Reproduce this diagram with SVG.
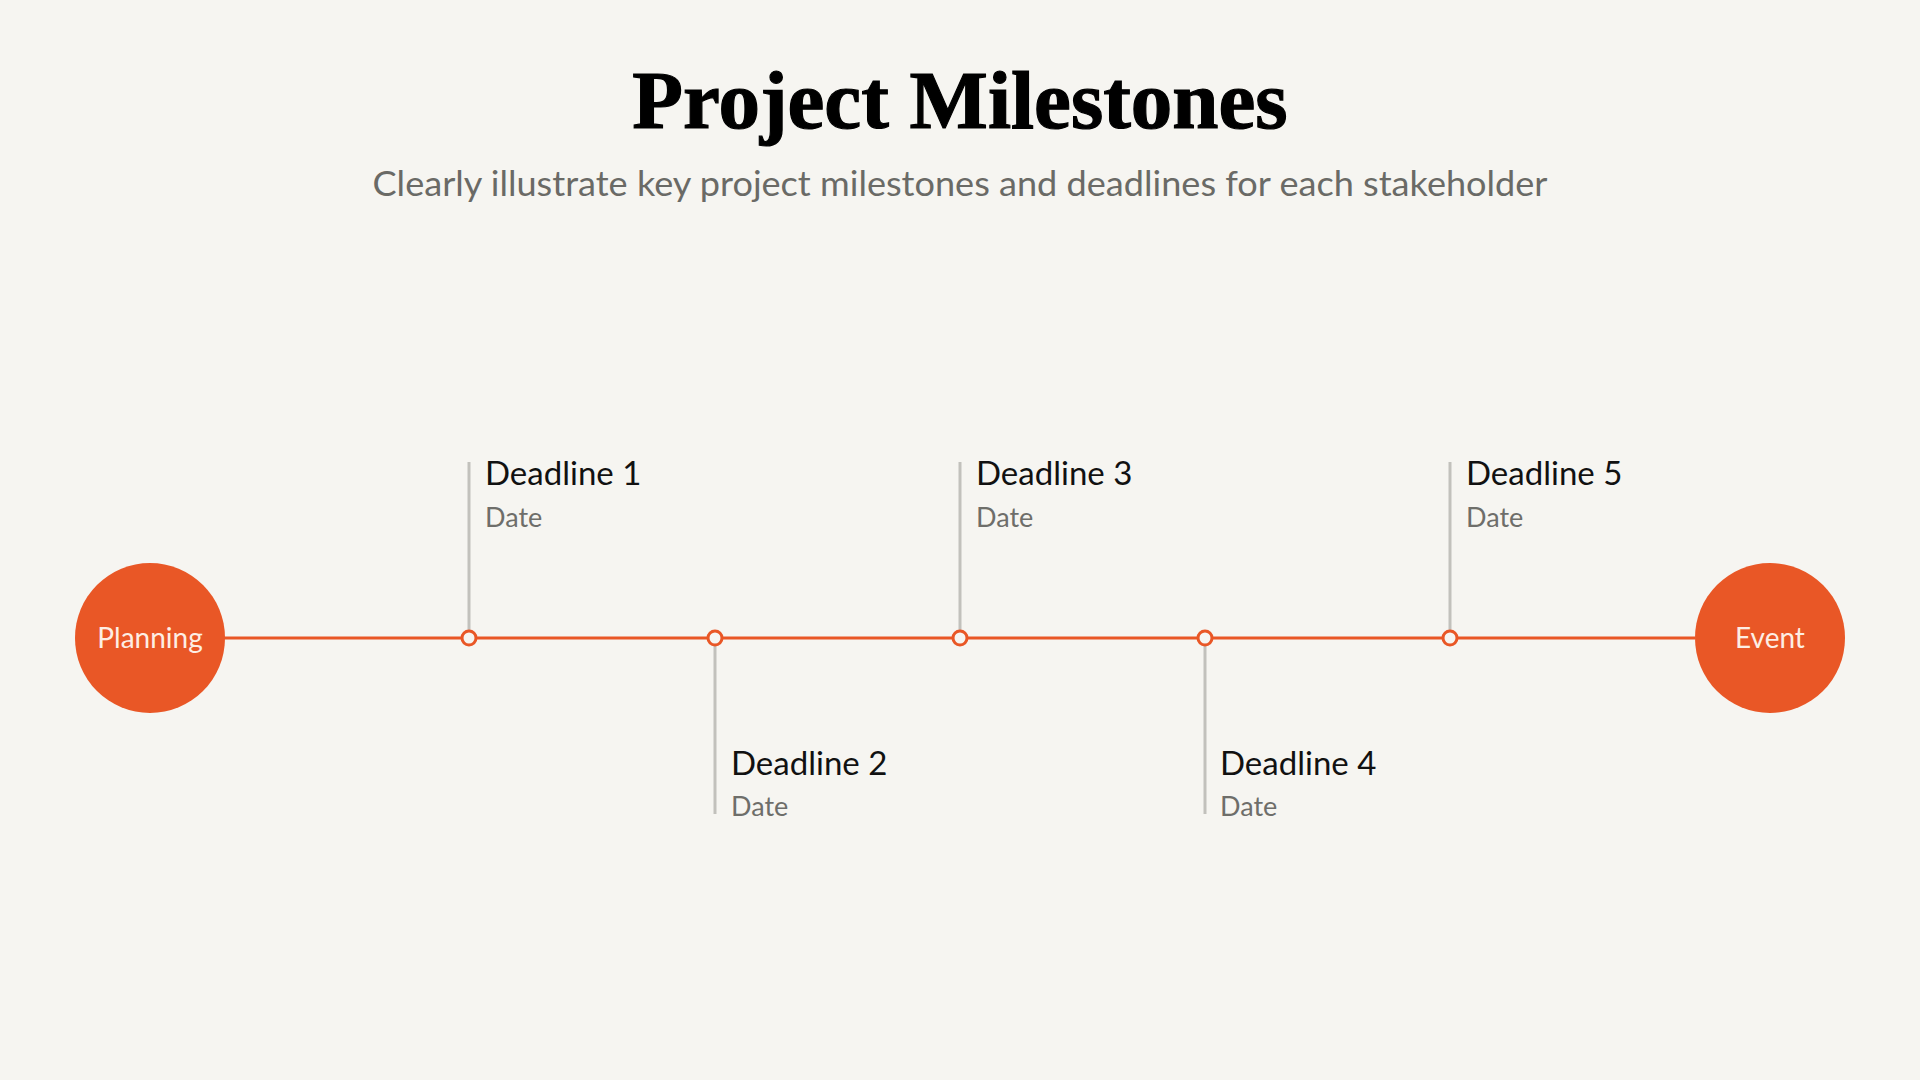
<svg xmlns="http://www.w3.org/2000/svg" width="1920" height="1080" viewBox="0 0 1920 1080">
<style>
.title{font-family:"Liberation Serif","DejaVu Serif",serif;font-weight:bold;font-size:83px;fill:#000;stroke:#000;stroke-width:1.2px;text-anchor:middle}
.sub{font-family:Lato,"Noto Sans",sans-serif;font-size:35px;fill:#6a6a66;text-anchor:middle}
.dl{font-family:Lato,"Noto Sans",sans-serif;font-size:33px;fill:#111}
.dt{font-family:Lato,"Noto Sans",sans-serif;font-size:27px;fill:#6e6e6a}
.end{font-family:Lato,"Noto Sans",sans-serif;font-size:28px;fill:#fdeee4;text-anchor:middle}
.big{fill:#e95726}
.dot{fill:#f6f5f1;stroke:#e95726;stroke-width:3}
.tick{stroke:#c2c1bc;stroke-width:3}
.axis{stroke:#e95726;stroke-width:3;fill:none}
</style>
<rect width="1920" height="1080" fill="#f6f5f1"/>
<text class="title" x="960" y="128">Project Milestones</text>
<text class="sub" x="960" y="196" textLength="1175" lengthAdjust="spacingAndGlyphs">Clearly illustrate key project milestones and deadlines for each stakeholder</text>
<g id="connectors">
<line class="axis" x1="224" y1="638" x2="1695" y2="638"/>
<line class="tick" x1="469" y1="462" x2="469" y2="630"/>
<line class="tick" x1="715" y1="646" x2="715" y2="814"/>
<line class="tick" x1="960" y1="462" x2="960" y2="630"/>
<line class="tick" x1="1205" y1="646" x2="1205" y2="814"/>
<line class="tick" x1="1450" y1="462" x2="1450" y2="630"/>
</g>
<g id="planning">
<circle class="big" cx="150" cy="638" r="75"/>
<text class="end" x="150" y="648">Planning</text>
</g>
<g id="event">
<circle class="big" cx="1770" cy="638" r="75"/>
<text class="end" x="1770" y="648">Event</text>
</g>
<g id="deadline1">
<circle class="dot" cx="469" cy="638" r="7"/>
<text class="dl" x="485" y="485">Deadline 1</text>
<text class="dt" x="485" y="527">Date</text>
</g>
<g id="deadline2">
<circle class="dot" cx="715" cy="638" r="7"/>
<text class="dl" x="731" y="775">Deadline 2</text>
<text class="dt" x="731" y="816">Date</text>
</g>
<g id="deadline3">
<circle class="dot" cx="960" cy="638" r="7"/>
<text class="dl" x="976" y="485">Deadline 3</text>
<text class="dt" x="976" y="527">Date</text>
</g>
<g id="deadline4">
<circle class="dot" cx="1205" cy="638" r="7"/>
<text class="dl" x="1220" y="775">Deadline 4</text>
<text class="dt" x="1220" y="816">Date</text>
</g>
<g id="deadline5">
<circle class="dot" cx="1450" cy="638" r="7"/>
<text class="dl" x="1466" y="485">Deadline 5</text>
<text class="dt" x="1466" y="527">Date</text>
</g>
</svg>
